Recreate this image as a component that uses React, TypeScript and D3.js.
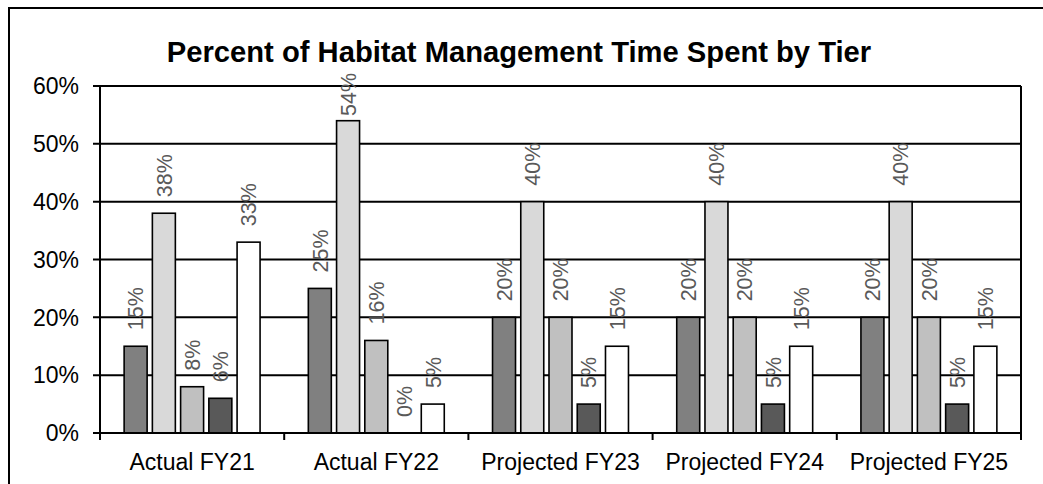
import React from "react";
import * as d3 from "d3";

const categories = ["Actual FY21", "Actual FY22", "Projected FY23", "Projected FY24", "Projected FY25"];
const tiers = ["Tier 1", "Tier 2", "Tier 3", "Tier 4", "Tier 5"];
const tier1 = [15, 25, 20, 20, 20];
const tier2 = [38, 54, 40, 40, 40];
const tier3 = [8, 16, 20, 20, 20];
const tier4 = [6, 0, 5, 5, 5];
const tier5 = [33, 5, 15, 15, 15];
const seriesValues = [tier1, tier2, tier3, tier4, tier5];
const tierColors = ["#808080", "#d9d9d9", "#c0c0c0", "#595959", "#ffffff"];
const yTicks = [0, 10, 20, 30, 40, 50, 60];
const title = "Percent of Habitat Management Time Spent by Tier";

const W = 1043;
const H = 484;
const left = 100;
const right = 1021;
const top = 86;
const bottom = 433;

export default function App() {
  const x0 = d3.scaleBand<string>().domain(categories).range([left, right]).padding(0);
  const gw = x0.bandwidth();
  const outer = gw * 0.131;
  const x1 = d3
    .scaleBand<string>()
    .domain(tiers)
    .range([outer, gw - outer])
    .paddingInner(0.186)
    .paddingOuter(0);
  const y = d3.scaleLinear().domain([0, 60]).range([bottom, top]);
  const font = "'Liberation Sans', Arial, sans-serif";

  return (
    <svg width={W} height={H} style={{ position: "absolute", left: 0, top: 0, background: "#fff" }}>
      <rect x={9} y={8} width={1200} height={700} fill="#fff" stroke="#000" strokeWidth={2} />
      <text x={519} y={62} textAnchor="middle" fontFamily={font} fontWeight="bold" fontSize={29.2}>
        {title}
      </text>
      {/* gridlines */}
      {yTicks.map((t) => (
        <g key={t}>
          <line x1={93} x2={right} y1={y(t)} y2={y(t)} stroke="#000" strokeWidth={2} />
          <text x={79} y={y(t)} dy="0.36em" textAnchor="end" fontFamily={font} fontSize={23}>
            {t}%
          </text>
        </g>
      ))}
      {/* bars */}
      {categories.map((c, ci) => (
        <g key={c} transform={`translate(${x0(c)},0)`}>
          {tiers.map((tr, si) => {
            const v = seriesValues[si][ci];
            const bx = x1(tr)!;
            const bw = x1.bandwidth();
            const ly = Math.max(y(v) - 16, top + 30);
            return (
              <g key={tr}>
                {v > 0 && (
                  <rect
                    x={bx}
                    y={y(v)}
                    width={bw}
                    height={y(0) - y(v)}
                    fill={tierColors[si]}
                    stroke="#000"
                    strokeWidth={1.6}
                  />
                )}
                <text
                  transform={`translate(${bx + bw / 2},${ly}) rotate(-90)`}
                  dy="0.36em"
                  textAnchor="start"
                  fontFamily={font}
                  fontSize={21.5}
                  fill="#595959"
                >
                  {v}%
                </text>
              </g>
            );
          })}
        </g>
      ))}
      {/* axes */}
      <line x1={left} x2={left} y1={top} y2={bottom} stroke="#000" strokeWidth={2} />
      <line x1={right} x2={right} y1={top} y2={bottom + 7} stroke="#000" strokeWidth={2} />
      <line x1={left} x2={right} y1={bottom} y2={bottom} stroke="#000" strokeWidth={2} />
      {categories.map((c) => (
        <line key={"t" + c} x1={x0(c)!} x2={x0(c)!} y1={bottom} y2={bottom + 7} stroke="#000" strokeWidth={2} />
      ))}
      {categories.map((c) => (
        <text
          key={"l" + c}
          x={x0(c)! + gw / 2}
          y={462}
          dy="0.36em"
          textAnchor="middle"
          fontFamily={font}
          fontSize={23}
        >
          {c}
        </text>
      ))}
    </svg>
  );
}
